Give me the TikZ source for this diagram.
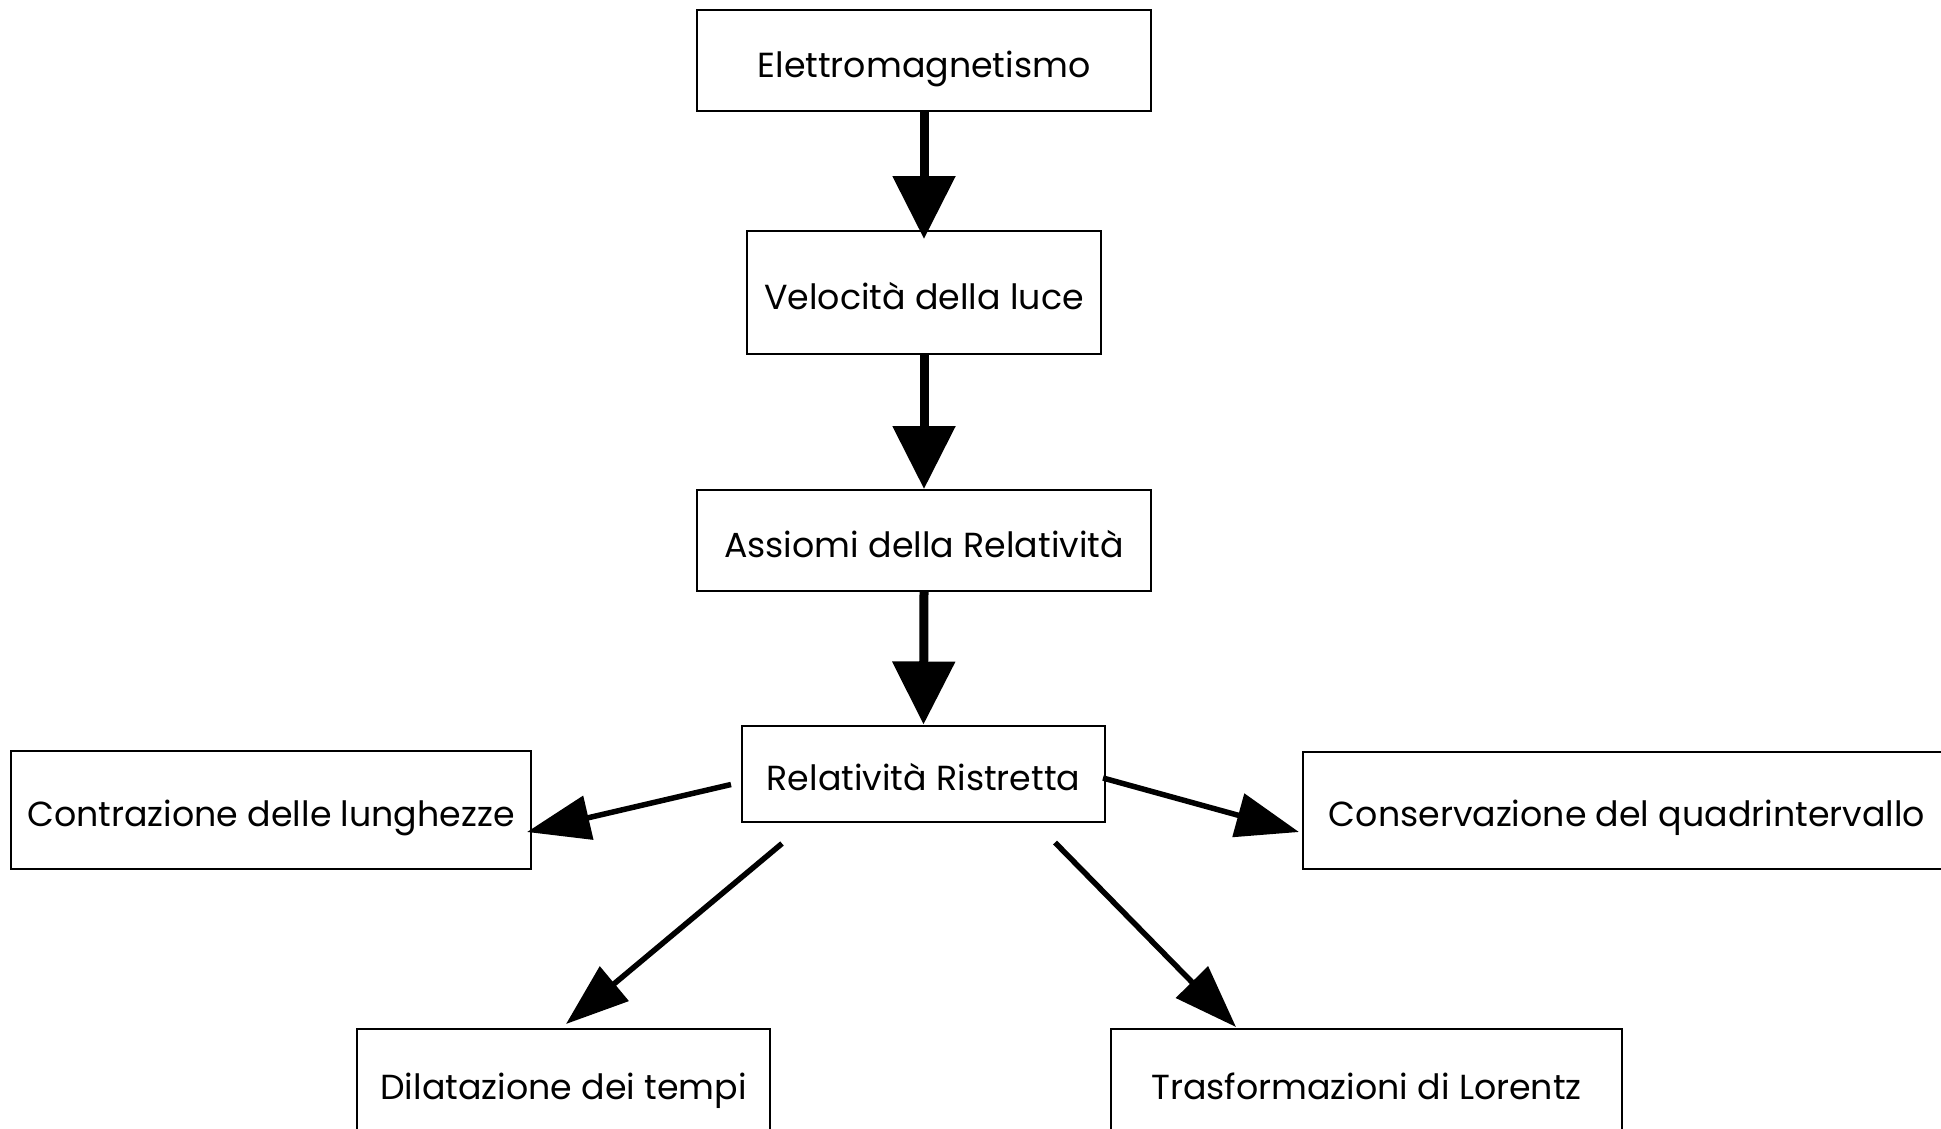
\documentclass[tikz,border=0pt]{standalone}
\usepackage{fontspec}
\setmainfont{Poppins}
\usetikzlibrary{arrows.meta}

\begin{document}
\begin{tikzpicture}[x=1pt, y=-1pt,
    box/.style={draw, line width=2pt, inner sep=0pt, text height=33pt, text depth=0pt,
      font=\fontsize{34.8}{40}\selectfont},
    bigarrow/.style={line width=9pt, -{Triangle[length=63pt, width=61pt]}},
    thinarrow/.style={line width=5.5pt, -{Triangle[length=63pt, width=44pt]}}]
      \useasboundingbox (0,0) rectangle (1941,1128);

      \node[box, minimum width=454pt, minimum height=101pt] (elettro) at (924,60.5) {Elettromagnetismo};
      \node[box, minimum width=354pt, minimum height=123pt] (velocita) at (924,292.5) {Velocità della luce};
      \node[box, minimum width=454pt, minimum height=101pt] (assiomi) at (924,540.5) {Assiomi della Relatività};
      \node[box, minimum width=363pt, minimum height=96pt] (ristretta) at (923.5,773.5) {Relatività Ristretta};
      \node[box, minimum width=520pt, minimum height=118pt] (contrazione) at (271,810) {Contrazione delle lunghezze};
      \node[box, minimum width=648pt, minimum height=117pt] (conservazione) at (1627,810) {Conservazione del quadrintervallo};
      \node[box, minimum width=413pt, minimum height=108pt] (dilatazione) at (563.5,1083) {Dilatazione dei tempi};
      \node[box, minimum width=511pt, minimum height=108pt] (lorentz) at (1366.5,1083) {Trasformazioni di Lorentz};

      \draw[bigarrow] (elettro.south) -- ([shift={(0,9)}]velocita.north);
      \draw[bigarrow] (velocita.south) -- (assiomi.north);
      \draw[bigarrow] (assiomi.south) -- (ristretta.north);

      \draw[thinarrow] ([shift={(-10,11)}]ristretta.west) -- ([shift={(-5,22)}]contrazione.east);
      \draw[thinarrow] ([shift={(-3,4.5)}]ristretta.east) -- ([shift={(-3,22)}]conservazione.west);
      \draw[thinarrow] ([shift={(41,21)}]ristretta.south west) -- ([shift={(2.5,-4)}]dilatazione.north);
      \draw[thinarrow] ([shift={(-51,20)}]ristretta.south east) -- ([shift={(126,-1)}]lorentz.north west);
\end{tikzpicture}
\end{document}
